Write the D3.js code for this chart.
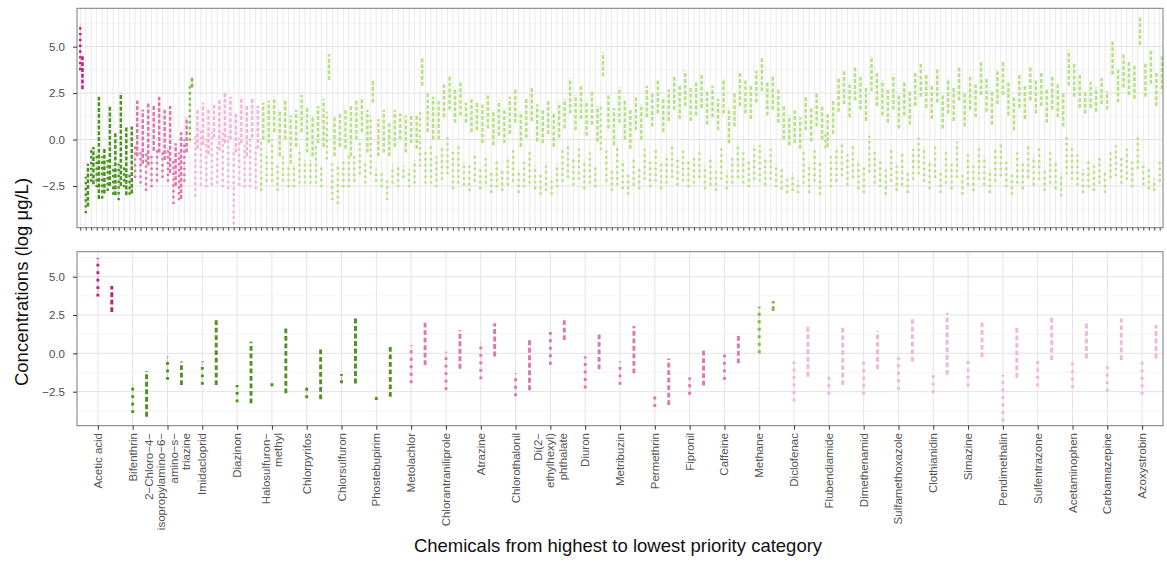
<!DOCTYPE html>
<html>
<head>
<meta charset="utf-8">
<script src="https://cdn.jsdelivr.net/npm/d3@7"></script>
<style>
  body { margin: 0; background: #fff; }
  svg { display: block; font-family: "Liberation Sans", Arial, sans-serif; }
</style>
</head>
<body>
<script>
// category colours, highest to lowest priority
var catColors = ["#c51b7d", "#4d9221", "#de77ae", "#7fbc41", "#f1b6da", "#b8e186"];

// ---- top panel: all chemicals (dotted range + dashed range per chemical) ----
var topCat = [0,1,1,1,1,1,1,1,1,1,2,2,2,2,2,2,2,2,2,2,3,4,4,4,4,4,4,4,4,4,4,4,4,
  5,5,5,5,5,5,5,5,5,5,5,5,5,5,5,5,5,5,5,5,5,5,5,5,5,5,5,5,5,5,5,5,5,
  5,5,5,5,5,5,5,5,5,5,5,5,5,5,5,5,5,5,5,5,5,5,5,5,5,5,5,5,5,5,5,5,5,5,5,5,5,5,5,5,5,5,5,5,5,5,5,5,5,5,5,5,5,5,5,5,5,5,5,5,5,5,5,5,5,5,
  5,5,5,5,5,5,5,5,5,5,5,5,5,5,5,5,5,5,5,5,5,5,5,5,5,5,5,5,5,5,5,5,5,5,5,5,5,5,5,5,5,5,5,5,5,5,5,5,5,5,5,5,5,5,5,5,5,5,5,5,5,5,5,5,5,5];

var topDotLo = [3.8,-3.9,-2.2,-2.5,-3.1,-2.7,-2.9,-3.2,-2.5,-2.9,-2.0,-2.3,-2.7,-2.5,-2.2,-2.0,-2.2,-3.4,-3.2,-2.2,0.0,-3.0,-2.4,-2.5,-2.4,-2.3,-2.5,-2.6,-4.5,-2.4,-2.5,-2.5,-2.6,
  -2.7,-2.2,-2.2,-2.7,-2.2,-2.5,-2.5,-2.3,-2.3,-2.3,-2.3,-2.5,-1.0,-3.2,-3.4,-2.5,-2.5,-2.2,-1.8,-2.3,-1.8,-2.2,-2.5,-3.2,-2.3,-2.5,-2.0,-2.5,-2.3,-1.4,-2.3,-2.3,-2.5,
  -2.1,-1.8,-2.6,-2.3,-2.4,-2.7,-2.2,-2.6,-2.3,-2.8,-2.5,-2.7,-2.4,-2.2,-2.8,-2.5,-2.3,-2.6,-2.9,-2.7,-2.9,-2.5,-2.2,-2.0,-2.4,-2.1,-2.6,-2.3,-2.5,-0.5,-2.2,-2.7,-2.4,-2.6,-2.9,-2.4,-2.6,-2.1,-2.5,-2.2,-2.6,-2.3,-2.0,-2.4,-2.2,-2.5,-2.3,-2.0,-2.6,-2.4,-2.7,-2.1,-2.6,-2.3,-2.0,-2.3,-2.5,-2.1,-2.2,-2.4,-2.1,-2.5,-2.6,-2.8,-2.7,-2.8,
  -2.3,-2.8,-2.2,-2.9,-0.4,-2.5,-2.2,-1.9,-2.4,-2.0,-2.6,-2.8,-1.7,-2.3,-2.5,-2.9,-2.2,-2.7,-2.4,-2.8,-2.1,-1.8,-2.2,-2.6,-2.0,-2.8,-2.3,-2.6,-2.0,-2.9,-2.4,-2.7,-2.1,-2.4,-2.8,-2.2,-1.9,-2.5,-2.9,-2.3,-2.6,-2.0,-2.4,-2.1,-2.7,-2.3,-2.6,-3.0,-1.8,-2.1,-2.4,-2.8,-2.5,-2.7,-2.3,-2.8,-2.0,-1.9,-2.3,-2.1,-2.5,-1.5,-2.4,-2.6,-2.7,-2.2];

var topDotHi = [6.2,-2.0,-0.5,-0.7,-0.9,-1.1,-1.4,-1.3,-1.4,-1.8,-0.3,-0.6,-0.7,-0.8,-0.5,-0.6,-0.4,-1.1,-0.7,0.0,3.0,0.3,0.6,0.0,0.4,-0.2,0.5,0.2,-0.5,0.1,-0.3,0.2,-0.4,
  0.0,-0.7,0.0,-1.4,-0.9,-1.3,-1.4,-0.5,-1.1,-1.1,-0.2,-1.4,1.5,-1.3,-1.3,-1.1,-0.7,-0.9,0.0,-1.3,1.3,-1.6,-1.8,-2.2,-1.4,-1.4,-1.4,-1.6,-1.1,1.6,-0.5,-0.2,-0.9,
  -0.3,0.2,-0.6,-0.2,-1.2,-1.4,-0.8,-1.5,-1.0,-1.8,-1.1,-1.6,-0.9,-0.4,-1.7,-1.2,-0.6,-1.4,-1.9,-1.2,-2.0,-1.3,-0.5,-0.2,-1.0,-0.4,-1.2,-0.7,-1.4,1.8,-0.6,-1.6,-0.3,-1.1,-1.9,-1.0,-1.5,-0.5,-1.1,-0.4,-1.3,-0.8,-0.3,-0.9,-0.6,-1.2,-0.8,-0.5,-1.4,-0.9,-1.5,-0.4,-1.7,-1.0,-0.2,-0.7,-1.1,-0.3,-0.3,-1.0,-0.5,-1.3,-1.6,-2.0,-1.8,-2.2,
  -0.6,-1.3,-0.4,-1.2,0.3,-0.9,-0.5,-0.1,-0.8,-0.3,-1.1,-1.5,0.2,-0.6,-1.0,-1.6,-0.4,-1.4,-0.7,-1.8,-0.5,0.1,-0.4,-1.2,-0.2,-1.7,-0.6,-1.3,-0.1,-1.9,-0.8,-1.4,-0.3,-0.9,-1.6,-0.5,-0.2,-1.2,-1.8,-0.7,-1.3,-0.2,-0.9,-0.4,-1.5,-0.7,-1.2,-1.8,0.2,-0.3,-0.8,-1.6,-1.1,-1.4,-0.9,-1.7,-0.6,-0.3,-0.9,-0.5,-1.1,0.3,-1.2,-1.6,-2.1,-1.1];

var topDashLo = [2.7,-3.6,-2.4,-3.2,-2.9,-2.5,-3.0,-2.5,-3.0,-2.9,-0.9,-1.3,-1.4,-0.6,-0.7,-1.1,-1.8,-2.5,-3.2,-0.7,2.8,-0.5,-0.3,-0.8,0.1,-0.6,-0.2,0.0,-0.7,-0.2,-0.9,0.1,-0.5,
  0.0,-0.2,0.4,-0.9,0.0,-1.3,-0.4,0.4,-0.7,-0.9,-0.2,-0.4,3.2,-0.9,-0.4,-0.5,-0.9,0.0,0.4,-0.7,2.0,-0.9,-0.7,-0.9,-0.4,0.0,-0.7,-0.2,-0.5,2.9,0.4,0.0,0.0,
  1.2,1.6,0.9,1.3,0.9,0.4,0.5,-0.2,0.6,-0.3,0.2,-0.2,0.3,0.9,-0.4,0.1,1.0,-0.1,-0.2,0.3,-0.4,0.1,0.6,1.4,0.5,1.1,0.2,0.8,-0.1,3.4,0.6,-0.3,0.9,0.0,-0.5,0.5,0.0,1.2,0.7,1.4,0.4,1.0,1.6,1.1,1.8,1.0,1.3,1.7,0.8,1.2,0.5,1.4,-0.2,0.7,1.8,1.4,1.1,2.0,2.6,1.3,1.6,0.9,0.0,-0.3,-0.2,-0.5,
  0.5,-0.1,0.7,0.0,-0.4,0.3,1.5,1.9,1.2,2.1,1.6,1.0,2.6,1.8,1.3,0.9,1.6,0.6,1.3,0.8,1.8,2.3,1.7,1.1,2.0,0.6,1.4,1.0,2.1,0.7,1.6,1.2,2.4,1.5,0.8,1.9,2.4,1.3,0.5,1.7,1.1,2.1,1.4,1.8,0.9,1.6,1.2,0.7,2.9,2.3,1.7,1.4,1.7,1.5,1.9,1.6,3.5,2.0,2.8,2.4,2.2,5.1,2.3,3.0,1.8,2.7];

var topDashHi = [4.5,-1.3,-0.4,2.3,-0.4,1.8,0.4,2.5,0.7,0.7,2.1,1.6,2.0,1.9,2.3,1.6,1.8,-0.2,0.4,1.2,3.4,1.7,2.0,1.6,1.9,2.2,2.6,2.3,1.5,2.3,1.8,2.2,1.8,
  2.0,2.1,2.3,1.6,2.2,1.3,1.6,2.4,1.8,1.3,1.8,2.2,4.6,1.3,1.4,1.6,1.8,2.2,2.3,1.6,3.2,1.1,1.6,0.9,1.6,1.4,1.3,1.4,1.3,4.4,2.5,2.3,2.2,
  3.0,3.4,2.7,3.1,2.0,2.2,2.0,1.9,2.5,1.6,2.1,1.7,2.3,2.7,1.5,2.2,2.8,1.9,1.6,2.1,1.4,2.0,2.2,3.3,2.4,2.9,2.1,2.6,1.8,4.7,2.4,1.7,2.8,2.1,1.6,2.3,1.9,2.9,2.5,3.2,2.3,2.7,3.4,2.9,3.7,2.8,3.1,3.5,2.6,2.9,2.2,3.3,1.7,2.5,3.6,3.2,2.9,3.7,4.4,3.1,3.4,2.7,1.8,1.3,1.6,1.2,
  2.3,1.7,2.5,1.8,1.4,2.1,3.3,3.7,3.0,3.9,3.4,2.8,4.5,3.6,3.2,2.7,3.5,2.4,3.1,2.6,3.6,4.1,3.5,2.9,3.8,2.4,3.3,2.8,3.9,2.5,3.4,3.0,4.2,3.3,2.6,3.7,4.2,3.1,2.3,3.5,2.9,3.9,3.2,3.6,2.7,3.4,3.0,2.5,4.8,4.1,3.5,2.6,3.1,2.8,3.3,2.6,5.3,3.8,4.6,4.2,4.0,6.6,4.1,4.8,3.6,4.5];

// ---- bottom panel: selected chemicals ----
var botNames = ["Acetic acid", "Bifenthrin", "2\u2212Chloro\u22124\u2212\nisopropylamino\u22126\u2212\namino\u2212s\u2212\ntriazine",
  "Imidacloprid", "Diazinon", "Halosulfuron\u2212\nmethyl", "Chlorpyrifos", "Chlorsulfuron", "Phostebupirim",
  "Metolachlor", "Chlorantraniliprole", "Atrazine", "Chlorothalonil", "Di(2\u2212\nethylhexyl)\nphthalate", "Diuron",
  "Metribuzin", "Permethrin", "Fipronil", "Caffeine", "Methane", "Diclofenac", "Flubendiamide", "Dimethenamid",
  "Sulfamethoxazole", "Clothianidin", "Simazine", "Pendimethalin", "Sulfentrazone", "Acetaminophen",
  "Carbamazepine", "Azoxystrobin"];
var botCat = [0,1,1,1,1,1,1,1,1,2,2,2,2,2,2,2,2,2,2,3,4,4,4,4,4,4,4,4,4,4,4];
var botDotLo  = [3.8,-3.8,-1.63,-1.96,-3.1,-2.05,-2.83,-1.85,-2.95,-1.85,-2.3,-1.6,-2.7,-0.65,-2.2,-1.96,-3.4,-2.6,-1.63,0.1,-3.04,-2.6,-2.6,-2.28,-2.5,-2.07,-4.35,-2.07,-2.17,-2.4,-2.6];
var botDotHi  = [6.2,-1.96,-0.22,-0.54,-2.07,-1.9,-2.17,-1.35,-2.8,0.54,0.1,0.76,-1.3,1.4,-0.2,-0.54,-2.8,-1.57,-0.07,3.04,-0.54,-1.4,-0.48,-0.26,-1.4,-0.2,-1.4,-0.43,-0.6,-0.83,-0.54];
var botDashLo = [2.7,-4.13,-2.07,-2.07,-3.26,-2.6,-3.0,-1.96,-2.83,-0.76,-1.0,-0.2,-2.4,0.87,-1.04,-1.3,-3.37,-2.1,-0.65,2.76,-1.52,-2.07,-1.04,-0.54,-1.4,-0.26,-1.6,-0.43,-0.33,-0.43,-0.33];
var botDashHi = [4.4,-1.15,-0.54,2.28,0.76,1.74,0.33,2.43,0.6,2.17,1.5,1.96,0.87,2.35,1.26,1.78,-0.33,0.2,1.26,3.41,1.85,1.7,1.48,2.28,2.65,2.2,1.7,2.5,2.13,2.28,1.85];

var yTicks = [-2.5, 0, 2.5, 5];
var yMinor = [-3.75, -1.25, 1.25, 3.75, 6.25];

var w = 1167, h = 566;
var left = 77, right = 1163;

var svg = d3.select("body").append("svg")
    .attr("width", w)
    .attr("height", h);

function drawPanel(cfg) {
  var g = svg.append("g");
  var x = cfg.x, y = cfg.y;
  var top = y.range()[1], bottom = y.range()[0];

  g.append("rect").attr("x", left).attr("y", top)
    .attr("width", right - left).attr("height", bottom - top).attr("fill", "#fff");

  // grid
  g.selectAll(".minor").data(yMinor.filter(function(v){ return v > y.domain()[0] && v < y.domain()[1]; }))
    .enter().append("line")
    .attr("x1", left).attr("x2", right)
    .attr("y1", function(d){ return y(d); }).attr("y2", function(d){ return y(d); })
    .attr("stroke", "#f0f0f0").attr("stroke-width", 0.7);
  g.selectAll(".major").data(yTicks)
    .enter().append("line")
    .attr("x1", left).attr("x2", right)
    .attr("y1", function(d){ return y(d); }).attr("y2", function(d){ return y(d); })
    .attr("stroke", "#e2e2e2").attr("stroke-width", 1);
  g.selectAll(".vgrid").data(x.domain())
    .enter().append("line")
    .attr("x1", function(d){ return x(d); }).attr("x2", function(d){ return x(d); })
    .attr("y1", top).attr("y2", bottom)
    .attr("stroke", "#e4e4e4").attr("stroke-width", cfg.gridW);

  var off = x.step() * 0.4;
  var cols = g.selectAll(".col").data(cfg.rows).enter().append("g");

  // faint connecting line under the dotted range
  cols.append("line")
    .attr("x1", function(d){ return x(d.key); }).attr("x2", function(d){ return x(d.key); })
    .attr("y1", function(d){ return y(d.dotLo); }).attr("y2", function(d){ return y(d.dotHi); })
    .attr("stroke", function(d){ return catColors[d.cat]; })
    .attr("stroke-opacity", 0.3).attr("stroke-width", 0.8);

  cols.append("line")
    .attr("x1", function(d){ return x(d.key); }).attr("x2", function(d){ return x(d.key); })
    .attr("y1", function(d){ return y(d.dotLo) + cfg.lw / 2; }).attr("y2", function(d){ return y(d.dotHi); })
    .attr("stroke", function(d){ return catColors[d.cat]; })
    .attr("stroke-width", cfg.lw)
    .attr("stroke-dasharray", cfg.dotted);

  cols.append("line")
    .attr("x1", function(d){ return x(d.key) + off; }).attr("x2", function(d){ return x(d.key) + off; })
    .attr("y1", function(d){ return y(d.dashLo); }).attr("y2", function(d){ return y(d.dashHi); })
    .attr("stroke", function(d){ return catColors[d.cat]; })
    .attr("stroke-width", cfg.lw)
    .attr("stroke-dasharray", cfg.dashed);

  g.append("rect").attr("x", left).attr("y", top)
    .attr("width", right - left).attr("height", bottom - top)
    .attr("fill", "none").attr("stroke", "#7a7a7a").attr("stroke-width", 1);

  // y axis
  var ya = g.append("g").attr("transform", "translate(" + left + ",0)")
    .call(d3.axisLeft(y).tickValues(yTicks).tickSize(4).tickPadding(8).tickFormat(d3.format(".1f")));
  ya.select(".domain").remove();
  ya.selectAll("line").attr("stroke", "#333");
  ya.selectAll("text").attr("font-size", "11.5px").attr("fill", "#4d4d4d")
    .attr("font-family", "Liberation Sans, Arial, sans-serif");

  // x axis ticks
  var xa = g.append("g").attr("transform", "translate(0," + bottom + ")")
    .call(d3.axisBottom(x).tickSize(cfg.tickLen).tickFormat(""));
  xa.select(".domain").remove();
  xa.selectAll("line").attr("stroke", "#333").attr("stroke-width", cfg.tickW);
  return g;
}

// top panel
var topRows = topCat.map(function(c, i) {
  return { key: i, cat: c, dotLo: topDotLo[i], dotHi: topDotHi[i], dashLo: topDashLo[i], dashHi: topDashHi[i] };
});
var xTop = d3.scalePoint().domain(d3.range(topCat.length)).range([left, right]).padding(0.6);
var yTop = d3.scaleLinear().domain([-4.74, 7.06]).range([227.7, 8.3]);
drawPanel({ x: xTop, y: yTop, rows: topRows, lw: 2.5, dotted: "2.4 3.4", dashed: "4 1.8", gridW: 0.8, tickLen: 3, tickW: 0.9 });

// bottom panel
var botRows = botNames.map(function(n, i) {
  return { key: n, cat: botCat[i], dotLo: botDotLo[i], dotHi: botDotHi[i], dashLo: botDashLo[i], dashHi: botDashHi[i] };
});
var xBot = d3.scalePoint().domain(botNames).range([left, right]).padding(0.6);
var yBot = d3.scaleLinear().domain([-4.72, 6.63]).range([425.7, 251.7]);
drawPanel({ x: xBot, y: yBot, rows: botRows, lw: 2.9, dotted: "2.9 4.6", dashed: "4.8 2.7", gridW: 1, tickLen: 4, tickW: 1 });

// rotated multi-line chemical labels
var lh = 12.4;
svg.append("g").selectAll("text").data(botNames).enter().append("text")
  .attr("transform", function(d){ return "translate(" + xBot(d) + ",433) rotate(-90)"; })
  .attr("text-anchor", "end")
  .attr("font-size", "11.5px")
  .attr("fill", "#555")
  .each(function(d) {
    var lines = d.split("\n");
    var t = d3.select(this);
    lines.forEach(function(line, k) {
      t.append("tspan").attr("x", 0)
        .attr("y", (k - (lines.length - 1) / 2) * lh + 4)
        .text(line);
    });
  });

// axis titles
svg.append("text")
  .attr("transform", "translate(28,282) rotate(-90)")
  .attr("text-anchor", "middle")
  .attr("font-size", "18.5px")
  .attr("fill", "#111")
  .text("Concentrations (log \u03bcg/L)");

svg.append("text")
  .attr("x", 618).attr("y", 552)
  .attr("text-anchor", "middle")
  .attr("font-size", "18.5px")
  .attr("fill", "#111")
  .text("Chemicals from highest to lowest priority category");
</script>
</body>
</html>
